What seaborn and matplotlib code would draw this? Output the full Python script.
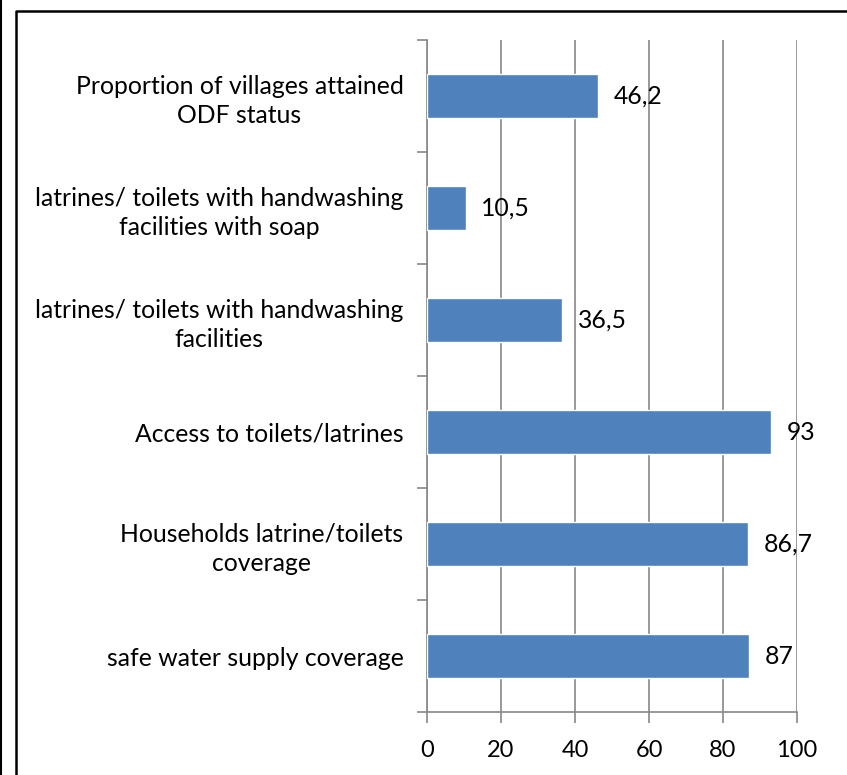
import matplotlib
matplotlib.use("Agg")
import matplotlib.pyplot as plt
import seaborn as sns
import pandas as pd
from matplotlib.lines import Line2D

categories = [
    "Proportion of villages attained\nODF status",
    "latrines/ toilets with handwashing\nfacilities with soap",
    "latrines/ toilets with handwashing\nfacilities",
    "Access to toilets/latrines",
    "Households latrine/toilets\ncoverage",
    "safe water supply coverage",
]
values = [46.2, 10.5, 36.5, 93, 86.7, 87]
value_labels = ["46,2", "10,5", "36,5", "93", "86,7", "87"]
xticks = [0, 20, 40, 60, 80, 100]

sns.set_theme(style="white")
plt.rcParams['font.family'] = ['Lato', 'DejaVu Sans']

df = pd.DataFrame({"cat": categories, "val": values})

W, H = 847, 775
fig = plt.figure(figsize=(W / 100, H / 100), dpi=100)
ax = fig.add_axes([427 / W, 1 - 712 / H, (797 - 427) / W, (712 - 40) / H])

sns.barplot(data=df, x="val", y="cat", orient="h", color="#4F81BD",
            saturation=1, width=0.4, ax=ax, zorder=3)

ax.set_xlim(0, 100)
ax.set_ylim(len(categories) - 0.5, -0.5)
ax.set_xticks(xticks)
ax.set_xticklabels([str(t) for t in xticks], fontsize=17, color="black")
ax.set_xlabel("")
ax.set_ylabel("")

ax.set_yticks(range(len(categories)))
ax.set_yticklabels(categories, fontsize=17.8, color="black",
                   ha="right", multialignment="center", linespacing=1.3)
ax.set_yticks([i - 0.5 for i in range(len(categories) + 1)], minor=True)
ax.tick_params(axis="y", which="major", length=0, pad=17)
ax.tick_params(axis="y", which="minor", length=7, width=1.2, color="#888888", direction="out", left=True)
ax.tick_params(axis="x", which="major", length=8, width=1.2, color="#888888", direction="out", bottom=True, pad=12)

ax.grid(axis="x", color="#888888", linewidth=1.2, zorder=0)
ax.grid(axis="y", visible=False)
for s in ["top", "right"]:
    ax.spines[s].set_visible(False)
for s in ["left", "bottom"]:
    ax.spines[s].set_color("#888888")
    ax.spines[s].set_linewidth(1.2)

for i, (v, lab) in enumerate(zip(values, value_labels)):
    ax.text(v + 4.2, i, lab, va="center", ha="left", fontsize=17.8, color="black", zorder=4)

# figure frame lines
fig.add_artist(Line2D([1 / W, 1 / W], [0, 1], transform=fig.transFigure, color="black", linewidth=1.5))
fig.add_artist(Line2D([16 / W, 16 / W, 1.01], [-0.01, 1 - 11 / H, 1 - 11 / H],
                      transform=fig.transFigure, color="black", linewidth=1.8))

fig.savefig("out.png", dpi=100)
